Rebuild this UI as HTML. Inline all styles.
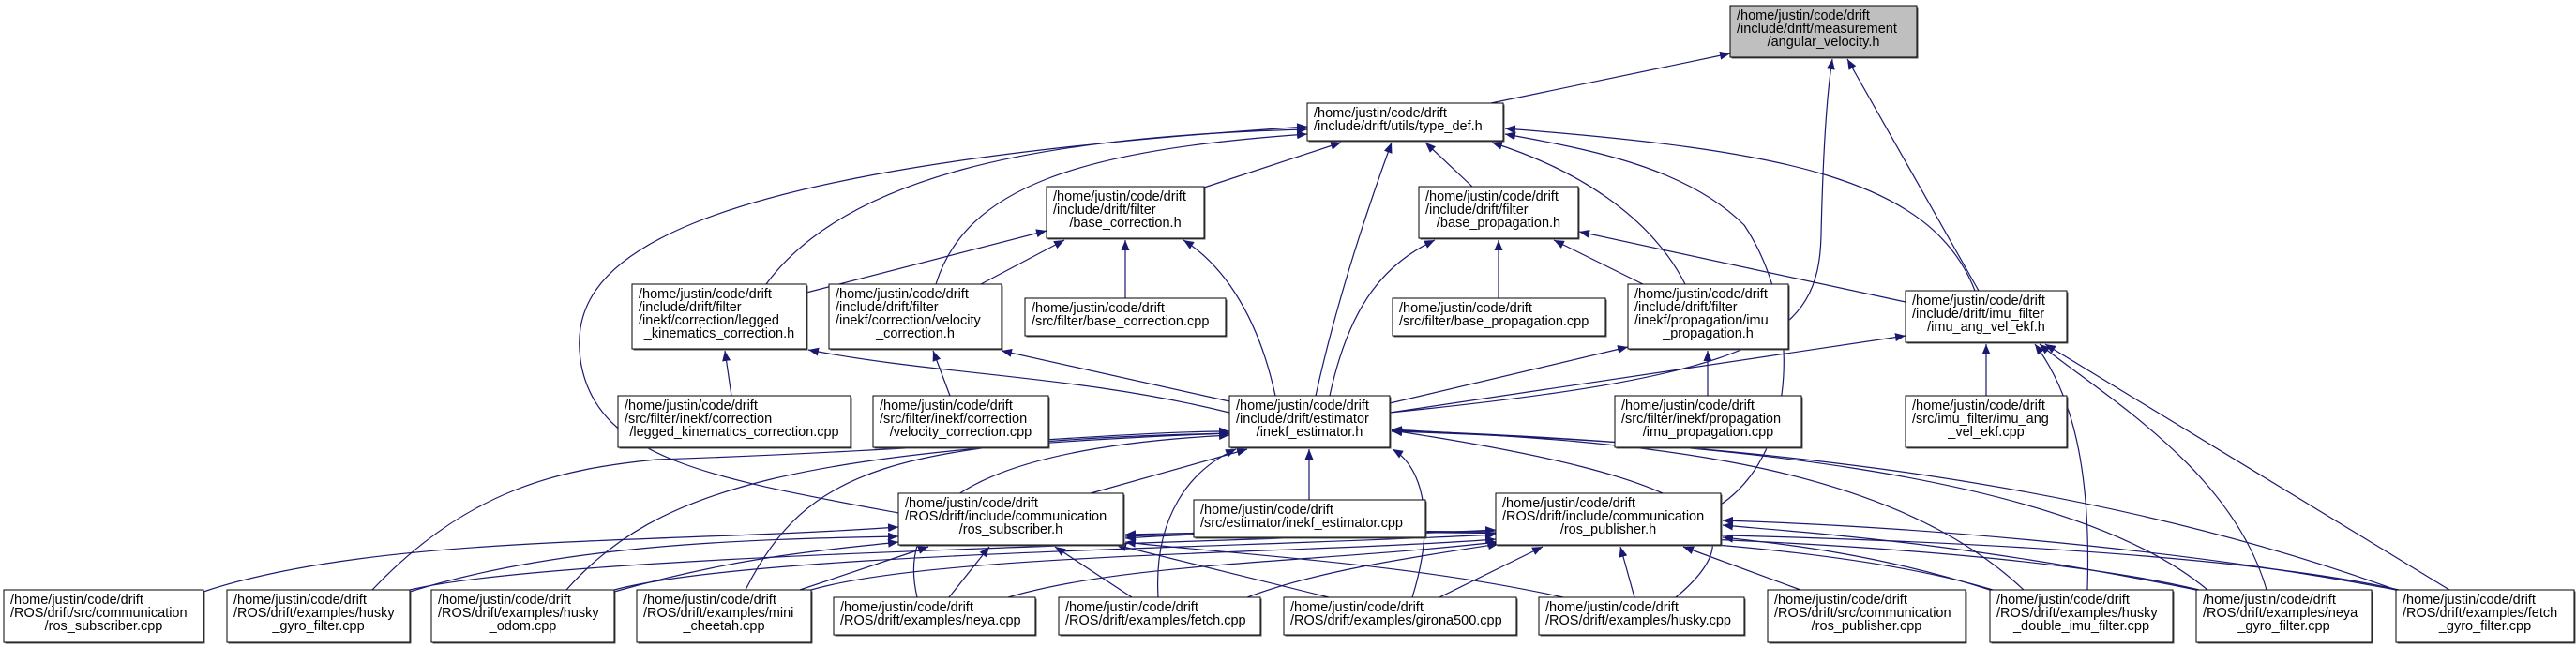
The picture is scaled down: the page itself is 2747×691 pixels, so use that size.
<!DOCTYPE html>
<html><head><meta charset="utf-8"><style>
html,body{margin:0;padding:0;background:#fff;}
svg{display:block;}
text{font-family:"Liberation Sans",sans-serif;font-size:14.5px;fill:#000;}
.e{fill:none;stroke:#191970;stroke-width:1.2;}
</style></head><body>
<svg width="2747" height="691" viewBox="0 0 2747 691" xmlns="http://www.w3.org/2000/svg">
<defs><marker id="a" markerUnits="userSpaceOnUse" markerWidth="12" markerHeight="9" refX="11" refY="4.5" orient="auto"><path d="M0,0 L11,4.5 L0,9 z" fill="#191970"/></marker></defs>
<g class="e" marker-end="url(#a)">
<path d="M1590,110 L1845,57"/>
<path d="M1482,440 C1880,400 1940,360 1942,250 Q1945,120 1954,63"/>
<path d="M2110,310 L1970,63"/>
<path d="M2106,310 C2060,190 1900,160 1605,137"/>
<path d="M817,303 C900,190 1100,145 1394,138"/>
<path d="M998,303 C1030,200 1150,160 1394,143"/>
<path d="M1284,200 L1430,152"/>
<path d="M958,547 C760,510 640,490 620,390 C600,280 700,180 1394,135"/>
<path d="M1403,422 Q1430,300 1484,152"/>
<path d="M1570,199 L1520,152"/>
<path d="M1797,303 C1760,230 1680,180 1591,152"/>
<path d="M1835,538 C1920,480 1920,330 1860,240 C1800,180 1700,160 1605,143"/>
<path d="M1200,318 L1200,256"/>
<path d="M860,312 L1116,246"/>
<path d="M1046,303 L1135,256"/>
<path d="M1360,422 C1340,330 1300,280 1262,256"/>
<path d="M1598,318 L1598,256"/>
<path d="M1752,303 L1657,256"/>
<path d="M1418,422 C1440,320 1480,280 1530,256"/>
<path d="M2032,322 L1684,247"/>
<path d="M780,422 L773,374"/>
<path d="M1311,440 C1150,400 1000,400 862,373"/>
<path d="M1013,422 L995,374"/>
<path d="M1311,428 L1068,374"/>
<path d="M1482,430 L1736,370"/>
<path d="M1821,422 L1821,374"/>
<path d="M1482,440 L2032,358"/>
<path d="M2118,422 L2118,367"/>
<path d="M2226,629 C2230,500 2210,420 2170,367"/>
<path d="M2417,629 C2380,500 2240,420 2175,367"/>
<path d="M2612,629 L2181,367"/>
<path d="M1396,533 L1396,479"/>
<path d="M1163,526 L1330,479"/>
<path d="M397,629 C500,520 600,500 700,490 C1000,480 1200,460 1311,460"/>
<path d="M604,629 C700,520 850,480 1311,462"/>
<path d="M795,629 C860,500 950,470 1311,462"/>
<path d="M978,637 C960,560 1000,480 1311,464"/>
<path d="M1235,637 C1230,550 1270,500 1318,479"/>
<path d="M1506,637 C1530,560 1520,500 1485,479"/>
<path d="M1787,637 C1880,560 1820,510 1484,459"/>
<path d="M2158,629 C2000,480 1700,470 1484,458"/>
<path d="M2354,629 C2200,500 1800,470 1484,459"/>
<path d="M2555,629 C2200,500 1800,470 1484,460"/>
<path d="M217,631 C400,570 700,580 958,562"/>
<path d="M437,631 C600,580 800,575 958,572"/>
<path d="M655,631 C800,590 900,585 958,578"/>
<path d="M853,629 L990,583"/>
<path d="M1012,637 L1055,583"/>
<path d="M1207,637 L1125,583"/>
<path d="M1417,637 L1190,581"/>
<path d="M1667,637 C1500,600 1300,590 1200,578"/>
<path d="M2125,629 C1900,560 1400,560 1200,574"/>
<path d="M2345,629 C2100,570 1500,560 1200,572"/>
<path d="M2558,629 C2300,570 1600,560 1200,570"/>
<path d="M437,629 C600,590 1300,580 1595,565"/>
<path d="M655,629 C800,590 1300,585 1595,570"/>
<path d="M865,629 C1000,590 1400,590 1595,575"/>
<path d="M1075,637 C1200,600 1400,600 1597,578"/>
<path d="M1330,637 C1400,610 1500,595 1598,580"/>
<path d="M1535,637 L1645,583"/>
<path d="M1743,637 L1728,583"/>
<path d="M1920,629 L1795,583"/>
<path d="M2122,629 C2000,590 1900,580 1837,573"/>
<path d="M2342,629 C2100,580 1950,570 1837,560"/>
<path d="M2555,629 C2300,580 2000,560 1837,555"/>
</g>
<g id="nodes"></g>
<script>
const N=[
[1845,6,199,55,["/home/justin/code/drift","/include/drift/measurement","/angular_velocity.h"],1],
[1394,110,209,40,["/home/justin/code/drift","/include/drift/utils/type_def.h"]],
[1116,199,168,55,["/home/justin/code/drift","/include/drift/filter","/base_correction.h"]],
[1513,199,170,55,["/home/justin/code/drift","/include/drift/filter","/base_propagation.h"]],
[674,303,186,69,["/home/justin/code/drift","/include/drift/filter","/inekf/correction/legged","_kinematics_correction.h"]],
[884,303,184,69,["/home/justin/code/drift","/include/drift/filter","/inekf/correction/velocity","_correction.h"]],
[1093,318,214,40,["/home/justin/code/drift","/src/filter/base_correction.cpp"]],
[1485,318,227,40,["/home/justin/code/drift","/src/filter/base_propagation.cpp"]],
[1736,303,171,69,["/home/justin/code/drift","/include/drift/filter","/inekf/propagation/imu","_propagation.h"]],
[2032,310,172,55,["/home/justin/code/drift","/include/drift/imu_filter","/imu_ang_vel_ekf.h"]],
[659,422,248,55,["/home/justin/code/drift","/src/filter/inekf/correction","/legged_kinematics_correction.cpp"]],
[931,422,187,55,["/home/justin/code/drift","/src/filter/inekf/correction","/velocity_correction.cpp"]],
[1311,422,171,55,["/home/justin/code/drift","/include/drift/estimator","/inekf_estimator.h"]],
[1722,422,199,55,["/home/justin/code/drift","/src/filter/inekf/propagation","/imu_propagation.cpp"]],
[2032,422,172,55,["/home/justin/code/drift","/src/imu_filter/imu_ang","_vel_ekf.cpp"]],
[1273,533,247,40,["/home/justin/code/drift","/src/estimator/inekf_estimator.cpp"]],
[958,526,240,55,["/home/justin/code/drift","/ROS/drift/include/communication","/ros_subscriber.h"]],
[1595,526,240,55,["/home/justin/code/drift","/ROS/drift/include/communication","/ros_publisher.h"]],
[4,629,213,56,["/home/justin/code/drift","/ROS/drift/src/communication","/ros_subscriber.cpp"]],
[242,629,195,56,["/home/justin/code/drift","/ROS/drift/examples/husky","_gyro_filter.cpp"]],
[460,629,195,56,["/home/justin/code/drift","/ROS/drift/examples/husky","_odom.cpp"]],
[679,629,186,56,["/home/justin/code/drift","/ROS/drift/examples/mini","_cheetah.cpp"]],
[889,637,215,40,["/home/justin/code/drift","/ROS/drift/examples/neya.cpp"]],
[1129,637,215,40,["/home/justin/code/drift","/ROS/drift/examples/fetch.cpp"]],
[1369,637,248,40,["/home/justin/code/drift","/ROS/drift/examples/girona500.cpp"]],
[1641,637,219,40,["/home/justin/code/drift","/ROS/drift/examples/husky.cpp"]],
[1885,629,211,56,["/home/justin/code/drift","/ROS/drift/src/communication","/ros_publisher.cpp"]],
[2122,629,195,56,["/home/justin/code/drift","/ROS/drift/examples/husky","_double_imu_filter.cpp"]],
[2342,629,187,56,["/home/justin/code/drift","/ROS/drift/examples/neya","_gyro_filter.cpp"]],
[2555,629,190,56,["/home/justin/code/drift","/ROS/drift/examples/fetch","_gyro_filter.cpp"]]
];
const g=document.getElementById('nodes'),ns="http://www.w3.org/2000/svg";
for(const [x,y,w,h,L,hl] of N){
 const s=document.createElementNS(ns,'rect');
 s.setAttribute('x',x+1.5);s.setAttribute('y',y+1.5);s.setAttribute('width',w);s.setAttribute('height',h);s.setAttribute('fill','#555');g.appendChild(s);
 const r=document.createElementNS(ns,'rect');
 r.setAttribute('x',x);r.setAttribute('y',y);r.setAttribute('width',w);r.setAttribute('height',h);
 r.setAttribute('fill',hl?'#bfbfbf':'#fff');r.setAttribute('stroke','#000');r.setAttribute('stroke-width','1');g.appendChild(r);
 L.forEach((t,i)=>{const e=document.createElementNS(ns,'text');
  const last=(L.length>2&&i==L.length-1);
  e.setAttribute('x',last?x+w/2:x+7);e.setAttribute('y',y+15+i*14);
  if(last)e.setAttribute('text-anchor','middle');
  e.textContent=t;g.appendChild(e);});
}
</script>
</svg>
</body></html>
